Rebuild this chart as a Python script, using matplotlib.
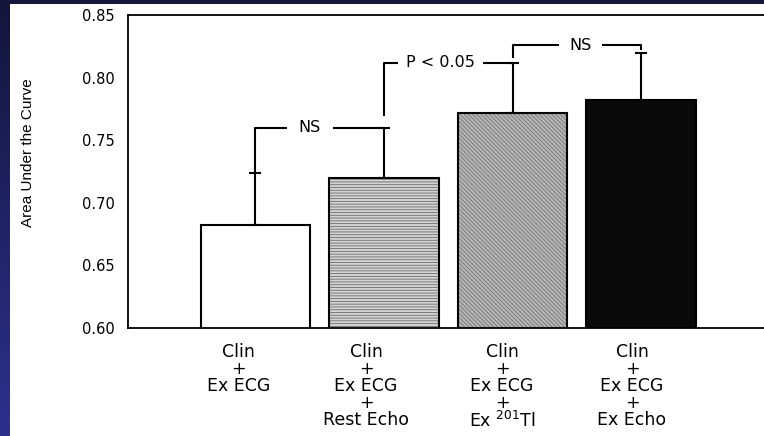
import numpy as np
import matplotlib
matplotlib.use('Agg')
import matplotlib.pyplot as plt
from matplotlib.patches import Rectangle
from matplotlib.colors import LinearSegmentedColormap

plt.rcParams['font.family'] = ['DejaVu Sans']
plt.rcParams['hatch.linewidth'] = 0.6

# models compared (x categories)
groups = ['Clin\n+\nEx ECG',
          'Clin\n+\nEx ECG\n+\nRest Echo',
          'Clin\n+\nEx ECG\n+\nEx $^{201}$Tl',
          'Clin\n+\nEx ECG\n+\nEx Echo']
auc = [0.682, 0.720, 0.772, 0.782]
auc_err = [0.042, 0.040, 0.040, 0.038]
y_ticks = [0.60, 0.65, 0.70, 0.75, 0.80, 0.85]

# pairwise comparisons: left bar, right bar, left foot, bracket level, right foot, label, label x
comparisons = [
    (0, 1, 0.724, 0.760, 0.760, 'NS', 0.424),
    (1, 2, 0.769, 0.812, 0.812, 'P < 0.05', 1.44),
    (2, 3, 0.816, 0.826, 0.822, 'NS', 2.53),
]
label_pads = [8.6, 5.8, 7.5]
label_shift = [-12, -13, -7.5, -6.5]

faces = ['white', '#d4d4d4', '#b6b6b6', '#0a0a0a']
hatches = [None, '------', '\\\\\\\\\\\\\\\\', None]
hatch_cols = ['none', '#6a6a6a', '#747474', 'none']

fig = plt.figure(figsize=(7.64, 4.36), dpi=100)

# slide-style backdrop: dark blue gradient with a white panel
bg = fig.add_axes([0, 0, 1, 1], zorder=-10)
grad = np.linspace(0, 1, 256)[:, None]
cmap = LinearSegmentedColormap.from_list('bg', ['#13153a', '#2d318e'])
bg.imshow(grad, aspect='auto', cmap=cmap, extent=[0, 1, 0, 1], origin='upper')
bg.add_patch(Rectangle((10 / 764, 0), 1, 1 - 4 / 436, facecolor='white', edgecolor='none'))
bg.set_xlim(0, 1)
bg.set_ylim(0, 1)
bg.set_axis_off()

ax = fig.add_axes([128 / 764, 1 - 328 / 436, 636 / 764, 313 / 436])
x = np.arange(len(auc))
w = 0.852

for i in range(len(auc)):
    if hatches[i]:
        ax.bar(x[i], auc[i], w, color=faces[i], hatch=hatches[i],
               edgecolor=hatch_cols[i], linewidth=0, zorder=2)
        ax.bar(x[i], auc[i], w, fill=False, edgecolor='black', linewidth=1.5, zorder=2.5)
    else:
        ax.bar(x[i], auc[i], w, color=faces[i], edgecolor='black', linewidth=1.5, zorder=2)

ax.errorbar(x, auc, yerr=[np.zeros(len(auc)), auc_err], fmt='none', ecolor='black',
            elinewidth=1.5, capsize=4.3, capthick=1.5, zorder=3)

for (a, b, lf, lev, rf, txt, tx), pad in zip(comparisons, label_pads):
    ax.plot([a, a, b, b], [lf, lev, lev, rf], color='black', lw=1.5,
            solid_capstyle='butt', zorder=3)
    ax.text(tx, lev, txt, ha='center', va='center', fontsize=11.5, zorder=4,
            bbox=dict(facecolor='white', edgecolor='none', pad=pad))

ax.set_xlim(-0.992, 3.957)
ax.set_ylim(0.60, 0.85)
ax.set_xticks([])
ax.set_yticks(y_ticks)
ax.set_yticklabels(['%.2f' % t for t in y_ticks])
ax.tick_params(axis='y', length=0, pad=9.4, labelsize=10.5)

for side in ['left', 'bottom', 'top']:
    ax.spines[side].set_linewidth(1.3)
ax.spines['right'].set_visible(False)

ax.set_ylabel('Area Under the Curve', fontsize=11, family='Liberation Sans')
ax.yaxis.set_label_coords(-0.146, 0.559)

for i, lab in enumerate(groups):
    ax.annotate(lab, xy=(x[i], 0), xycoords=('data', 'axes fraction'),
                xytext=(label_shift[i], -11), textcoords='offset points',
                ha='center', va='top', fontsize=12.5, linespacing=0.93,
                annotation_clip=False)

fig.savefig('out.png', dpi=100)
